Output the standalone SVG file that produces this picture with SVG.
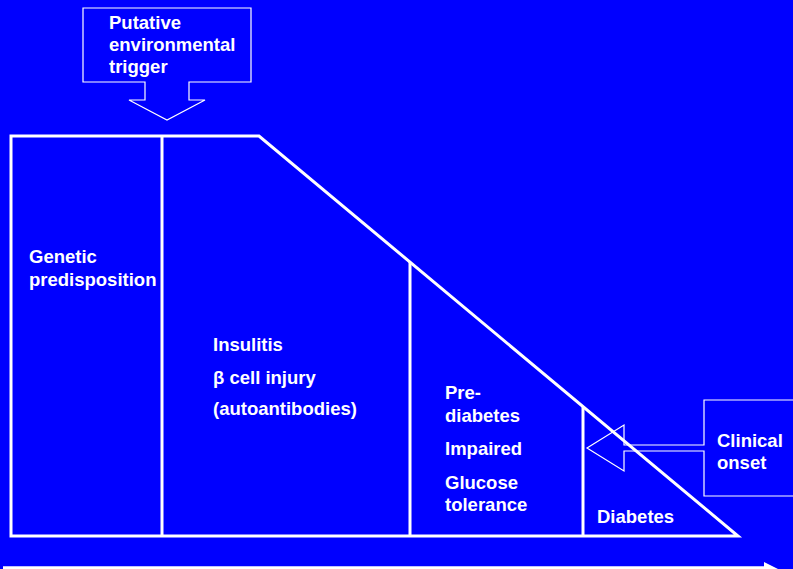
<svg xmlns="http://www.w3.org/2000/svg" width="793" height="569" viewBox="0 0 793 569">
<style>
.t{font-family:"Liberation Sans",Arial,sans-serif;font-weight:bold;font-size:18.5px;fill:#fff}
.thick{fill:none;stroke:#fff;stroke-width:3}
.thin{fill:none;stroke:#fff;stroke-width:1.2}
</style>
<rect width="793" height="569" fill="#0000ff"/>
<g id="connectors">
<line x1="3" y1="568" x2="766" y2="568" stroke="#fff" stroke-width="3.5"/>
<polygon points="764,562 782,571 764,580" fill="#fff"/>
</g>
<g id="stages">
<polygon class="thick" points="11,136 259,136 738,536 11,536"/>
<line class="thick" x1="162" y1="136" x2="162" y2="536"/>
<line class="thick" x1="410" y1="262" x2="410" y2="536"/>
<line class="thick" x1="583" y1="407" x2="583" y2="536"/>
</g>
<g id="genetic">
<text class="t" x="29" y="263">Genetic</text>
<text class="t" x="29" y="286">predisposition</text>
</g>
<g id="insulitis">
<text class="t" x="213" y="351">Insulitis</text>
<text class="t" x="213" y="384">β cell injury</text>
<text class="t" x="213" y="415">(autoantibodies)</text>
</g>
<g id="prediabetes">
<text class="t" x="445" y="399">Pre-</text>
<text class="t" x="445" y="422">diabetes</text>
<text class="t" x="445" y="455">Impaired</text>
<text class="t" x="445" y="489">Glucose</text>
<text class="t" x="445" y="511">tolerance</text>
</g>
<g id="diabetes">
<text class="t" x="597" y="523">Diabetes</text>
</g>
<g id="trigger">
<path class="thin" d="M83,8 H251 V82 H189 V100 H205 L167,120 L129,100 H145 V82 H83 Z"/>
<text class="t" x="109" y="29">Putative</text>
<text class="t" x="109" y="51">environmental</text>
<text class="t" x="109" y="73">trigger</text>
</g>
<g id="clinical-onset">
<path class="thin" d="M704,400 H800 V496 H704 V451 H624 V471 L587,448 L624,425 V445 H704 Z"/>
<text class="t" x="717" y="447">Clinical</text>
<text class="t" x="717" y="469">onset</text>
</g>
</svg>
